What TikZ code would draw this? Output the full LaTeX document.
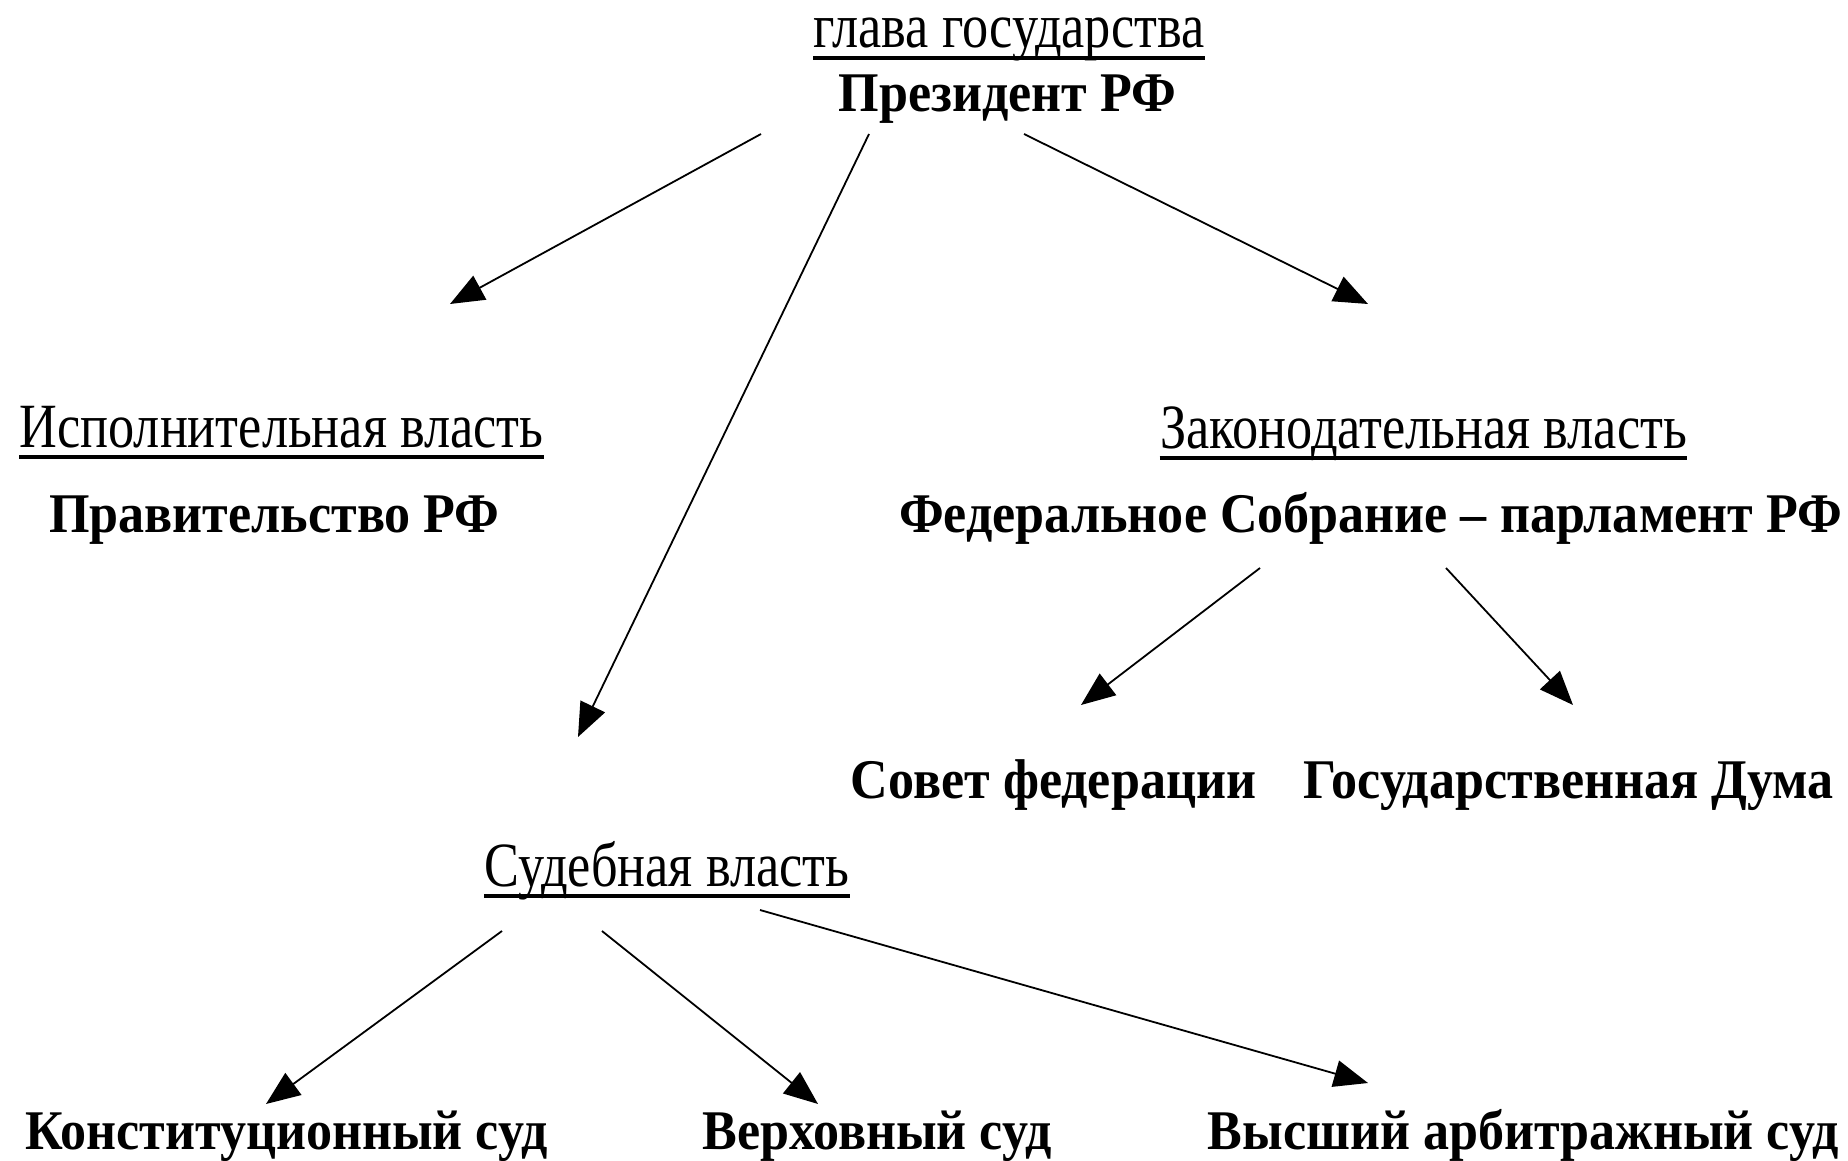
\documentclass[tikz,border=0pt]{standalone}
\usepackage{fontspec}
\setmainfont{Liberation Serif}
\newfontfamily\headfont[FakeStretch=0.83]{Liberation Serif}
\newfontfamily\namefont[FakeStretch=0.93]{Liberation Serif}
\usetikzlibrary{arrows.meta}

\tikzset{
  head/.style={inner sep=0pt, anchor=base, font=\headfont\fontsize{31.5pt}{33pt}\selectfont},
  body/.style={inner sep=0pt, anchor=base, font=\namefont\bfseries\fontsize{28pt}{30pt}\selectfont},
  uline/.style={line width=1.7pt},
  link/.style={line width=0.9pt, -{Triangle[length=17pt,width=13.5pt]}},
}

\begin{document}
\begin{tikzpicture}[x=0.5pt,y=-0.5pt]
\useasboundingbox (0,0) rectangle (1848,1161);
% headings and bodies
\node[head] (headstate) at (1009,48) {глава государства};
\node[body] (pres) at (1007.5,112) {Президент РФ};
\node[head] (exec) at (281.5,447) {Исполнительная власть};
\node[body] (gov) at (274.5,532) {Правительство РФ};
\node[head] (legis) at (1423.5,448) {Законодательная власть};
\node[body] (fed) at (1370.5,532) {Федеральное Собрание – парламент РФ};
\node[body] (council) at (1053.5,798) {Совет федерации};
\node[body] (duma) at (1568.5,798) {Государственная Дума};
\node[head] (judic) at (667,886) {Судебная власть};
\node[body] (const) at (286.5,1149) {Конституционный суд};
\node[body] (supreme) at (877,1149) {Верховный суд};
\node[body] (arbit) at (1523,1149) {Высший арбитражный суд};
% underlines
\foreach \h in {headstate,exec,legis,judic}
  \draw[uline] ([yshift=-5pt]\h.base west) -- ([yshift=-5pt]\h.base east);
% arrow ends
\coordinate (pres-l) at (761,134);
\coordinate (pres-m) at (869,134);
\coordinate (pres-r) at (1024,134);
\coordinate (exec-in) at (450,304);
\coordinate (judic-in) at (578,737);
\coordinate (legis-in) at (1368,304);
\coordinate (fed-l) at (1260,568);
\coordinate (fed-r) at (1446,568);
\coordinate (council-in) at (1081,705);
\coordinate (duma-in) at (1573,705);
\coordinate (judic-l) at (502,931);
\coordinate (judic-m) at (602,931);
\coordinate (judic-r) at (760,910);
\coordinate (const-in) at (266,1104);
\coordinate (supreme-in) at (818,1104);
\coordinate (arbit-in) at (1368,1083);
% arrows
\draw[link] (pres-l) -- (exec-in);
\draw[link] (pres-m) -- (judic-in);
\draw[link] (pres-r) -- (legis-in);
\draw[link] (fed-l) -- (council-in);
\draw[link] (fed-r) -- (duma-in);
\draw[link] (judic-l) -- (const-in);
\draw[link] (judic-m) -- (supreme-in);
\draw[link] (judic-r) -- (arbit-in);
\end{tikzpicture}
\end{document}
